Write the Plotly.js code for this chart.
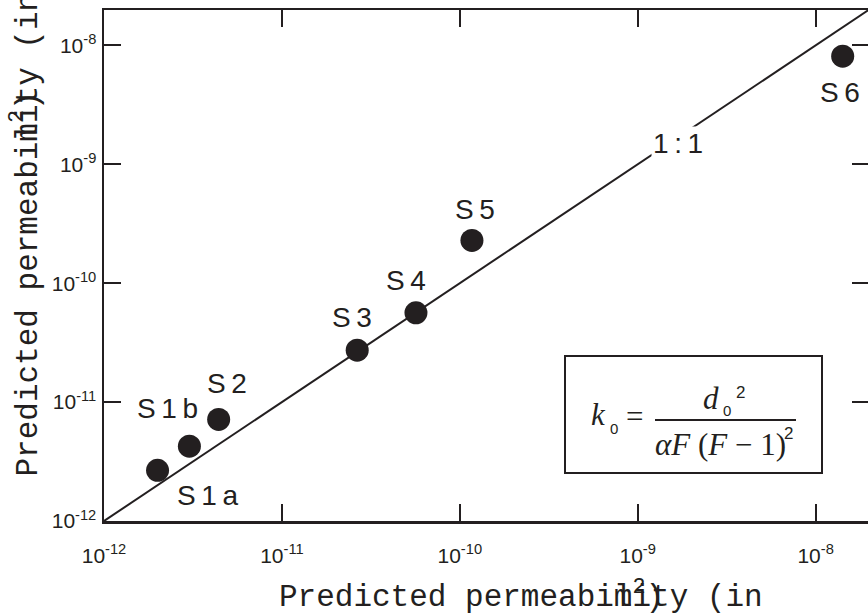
<!DOCTYPE html>
<html>
<head>
<meta charset="utf-8">
<script src="https://cdn.plot.ly/plotly-3.0.1.min.js"></script>
<style>
  html, body { margin: 0; padding: 0; overflow: hidden; background: #fff; }
  #chart { width: 880px; height: 614px; }
</style>
</head>
<body>
<div id="chart"></div>
<script>
// ---- data ----
const samples   = ['S1a', 'S1b', 'S2', 'S3', 'S4', 'S5', 'S6'];
const measured  = [2.0e-12, 3.02e-12, 4.41e-12, 2.65e-11, 5.67e-11, 1.17e-10, 1.42e-8];
const predicted = [2.67e-12, 4.26e-12, 7.15e-12, 2.73e-11, 5.64e-11, 2.29e-10, 8.11e-9];
const oneToOne  = [1e-12, 1e-7];
const tickVals  = [1e-12, 1e-11, 1e-10, 1e-9, 1e-8];
const tickText  = ['10<sup>-12</sup>', '10<sup>-11</sup>', '10<sup>-10</sup>', '10<sup>-9</sup>', '10<sup>-8</sup>'];
const axisTitle = 'Predicted permeability (in';
const axisUnit  = 'm<sup>2</sup>)';

// ---- style ----
const INK = '#231f20';
const labelShift = [[50, -25], [-22, 38], [8, 36], [-5, 33], [-10, 32], [3, 31], [-3, -36]];
const L = 104, PW = 765, T = 10, PH = 511;
const px = v => (v - L) / PW;
const py = v => (T + PH - v) / PH;
const C = { xanchor: 'center', yanchor: 'middle', xref: 'paper', yref: 'paper', showarrow: false };

const traces = [
  { x: oneToOne, y: oneToOne, type: 'scatter', mode: 'lines',
    line: { color: INK, width: 2 }, hoverinfo: 'skip', showlegend: false },
  { x: measured, y: predicted, type: 'scatter', mode: 'markers', text: samples,
    marker: { color: INK, size: 23 }, showlegend: false }
];

const ann = [];
samples.forEach((s, i) => {
  ann.push({ x: Math.log10(measured[i]), y: Math.log10(predicted[i]), xref: 'x', yref: 'y',
    xanchor: 'center', yanchor: 'middle',
    text: s.split('').join('\u2009'), showarrow: false,
    xshift: labelShift[i][0], yshift: labelShift[i][1],
    font: { family: 'Liberation Sans, Arial', size: 28, color: INK } });
});
ann.push(Object.assign({}, C, { x: px(678), y: py(143), text: '1\u2009:\u20091',
  bgcolor: '#ffffff', font: { family: 'Liberation Sans, Arial', size: 28, color: INK } }));

// axis titles (with the overlapping unit, as in the original)
const mono = { family: 'Liberation Mono, Courier New, monospace', size: 31, color: INK };
const hiddenPrefix = '<span style="color:rgba(0,0,0,0)">' + axisTitle.slice(0, 18) + '</span>';
ann.push({ x: px(277), y: py(617), xref: 'paper', yref: 'paper', xanchor: 'left', yanchor: 'bottom',
  text: axisTitle, showarrow: false, font: mono });
ann.push({ x: px(277), y: py(617), xref: 'paper', yref: 'paper', xanchor: 'left', yanchor: 'bottom',
  text: hiddenPrefix + axisUnit, showarrow: false, font: mono });
ann.push({ x: px(47), y: py(479), xref: 'paper', yref: 'paper', xanchor: 'right', yanchor: 'bottom',
  textangle: -90, text: axisTitle, showarrow: false, font: mono });
ann.push({ x: px(47), y: py(479), xref: 'paper', yref: 'paper', xanchor: 'right', yanchor: 'bottom',
  textangle: -90, text: hiddenPrefix + axisUnit, showarrow: false, font: mono });

// formula
const serif = { family: 'Liberation Serif, Times New Roman, serif', size: 31, color: INK };
const small = { family: 'Liberation Sans, Arial', size: 15, color: INK };
const sup = { family: 'Liberation Sans, Arial', size: 17, color: INK };
ann.push(Object.assign({}, C, { x: px(598), y: py(414), text: '<i>k</i>', font: serif }));
ann.push(Object.assign({}, C, { x: px(614), y: py(428), text: '0', font: small }));
ann.push(Object.assign({}, C, { x: px(634), y: py(416), text: '=', font: serif }));
ann.push(Object.assign({}, C, { x: px(711), y: py(398), text: '<i>d</i>', font: serif }));
ann.push(Object.assign({}, C, { x: px(727), y: py(410), text: '0', font: small }));
ann.push(Object.assign({}, C, { x: px(740), y: py(392), text: '2', font: sup }));
ann.push(Object.assign({}, C, { x: px(720), y: py(444), text: '<i>αF</i> (<i>F</i> \u2212 1)', font: serif }));
ann.push(Object.assign({}, C, { x: px(788), y: py(433), text: '2', font: sup }));

const axisCommon = {
  type: 'log', tickvals: tickVals, ticktext: tickText,
  ticks: 'inside', ticklen: 17, tickwidth: 2, tickcolor: INK,
  showline: true, linewidth: 2.5, linecolor: INK, mirror: 'ticks',
  showgrid: false, zeroline: false,
  tickfont: { family: 'Liberation Sans, Arial', size: 21, color: INK }
};

const layout = {
  width: 880, height: 614,
  margin: { l: L, r: 880 - L - PW, t: T, b: 614 - T - PH },
  paper_bgcolor: '#ffffff', plot_bgcolor: '#ffffff',
  xaxis: Object.assign({}, axisCommon, { range: [-12, -12 + PW / 177.9], ticklabelstandoff: 14 }),
  yaxis: Object.assign({}, axisCommon, { range: [-12, -12 + PH / 118.9], ticklabelstandoff: 1 }),
  annotations: ann,
  shapes: [
    { type: 'rect', xref: 'paper', yref: 'paper', x0: px(565), x1: px(822), y0: py(473), y1: py(356),
      line: { color: INK, width: 2 }, fillcolor: 'rgba(0,0,0,0)' },
    { type: 'line', xref: 'paper', yref: 'paper', x0: px(655), x1: px(796), y0: py(420), y1: py(420),
      line: { color: INK, width: 2 } }
  ],
  showlegend: false
};

Plotly.newPlot('chart', traces, layout, { displayModeBar: false, staticPlot: true });
</script>
</body>
</html>
